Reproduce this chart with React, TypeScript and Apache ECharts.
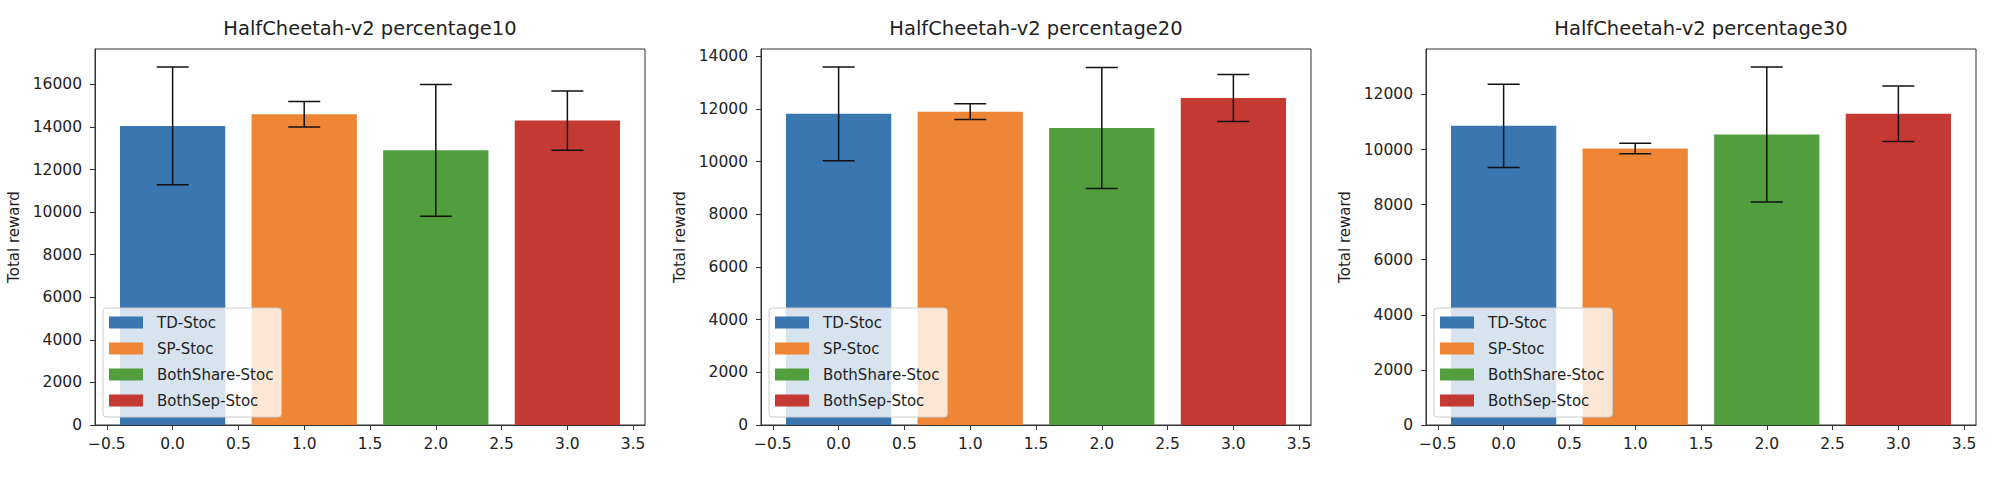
import React, { useEffect, useRef } from 'react';
import * as echarts from 'echarts';

const methods = ['TD-Stoc', 'SP-Stoc', 'BothShare-Stoc', 'BothSep-Stoc'];
const positions = [0, 1, 2, 3];
const titles = [
  'HalfCheetah-v2 percentage10',
  'HalfCheetah-v2 percentage20',
  'HalfCheetah-v2 percentage30',
];

// mean reward and std per method
const means10 = [14050, 14600, 12900, 14300];
const errs10 = [2770, 600, 3090, 1390];
const means20 = [11820, 11900, 11280, 12420];
const errs20 = [1780, 300, 2300, 890];
const means30 = [10860, 10040, 10550, 11300];
const errs30 = [1510, 190, 2450, 1010];

const yTicks10 = [0, 2000, 4000, 6000, 8000, 10000, 12000, 14000, 16000];
const yTicks20 = [0, 2000, 4000, 6000, 8000, 10000, 12000, 14000];
const yTicks30 = [0, 2000, 4000, 6000, 8000, 10000, 12000];
const xTicks = [-0.5, 0, 0.5, 1, 1.5, 2, 2.5, 3, 3.5];

const panels = [
  { title: titles[0], means: means10, errs: errs10, yTicks: yTicks10 },
  { title: titles[1], means: means20, errs: errs20, yTicks: yTicks20 },
  { title: titles[2], means: means30, errs: errs30, yTicks: yTicks30 },
];

const colors = ['#3a76af', '#ef8636', '#529e3e', '#c43a32'];
const FONT = 'DejaVu Sans';
const TEXT = '#222';
const gridLefts = [95, 761, 1426];
const GRID_TOP = 49;
const GRID_W = 550;
const GRID_H = 376;

const fmtX = (v: number) => (v < 0 ? '\u2212' : '') + Math.abs(v).toFixed(1);

const App: React.FC = () => {
  const chartRef = useRef<HTMLDivElement>(null);

  useEffect(() => {
    if (!chartRef.current) return;
    const chart = echarts.init(chartRef.current, null, { renderer: 'svg' });

    const renderBar = (color: string) => (params: any, api: any) => {
      const x = api.value(0);
      const y = api.value(1);
      const e = api.value(2);
      const p0 = api.coord([x - 0.4, y]);
      const p1 = api.coord([x + 0.4, 0]);
      const top = api.coord([x, y + e]);
      const bot = api.coord([x, y - e]);
      const cap = 16;
      const err = { stroke: '#111', lineWidth: 1.5 };
      return {
        type: 'group',
        children: [
          {
            type: 'rect',
            shape: { x: p0[0], y: p0[1], width: p1[0] - p0[0], height: p1[1] - p0[1] },
            style: { fill: color },
          },
          { type: 'line', shape: { x1: top[0], y1: top[1], x2: bot[0], y2: bot[1] }, style: err },
          { type: 'line', shape: { x1: top[0] - cap, y1: top[1], x2: top[0] + cap, y2: top[1] }, style: err },
          { type: 'line', shape: { x1: bot[0] - cap, y1: bot[1], x2: bot[0] + cap, y2: bot[1] }, style: err },
        ],
      };
    };

    const series: any[] = [];
    panels.forEach((p, gi) => {
      methods.forEach((m, i) => {
        series.push({
          name: m,
          type: 'custom',
          xAxisIndex: gi,
          yAxisIndex: gi,
          itemStyle: { color: colors[i] },
          renderItem: renderBar(colors[i]),
          encode: { x: 0, y: [1, 2] },
          data: [[positions[i], p.means[i], p.errs[i]]],
        });
      });
    });

    const option = {
      animation: false,
      textStyle: { fontFamily: FONT },
      title: panels.map((p, gi) => ({
        text: p.title,
        left: gridLefts[gi] + GRID_W / 2,
        top: 18,
        textAlign: 'center',
        padding: 0,
        textStyle: { fontFamily: FONT, fontSize: 19.5, fontWeight: 'normal', color: TEXT },
      })),
      legend: panels.map((p, gi) => ({
        data: methods,
        orient: 'vertical',
        left: gridLefts[gi] + 8,
        top: 308,
        icon: 'rect',
        itemWidth: 34,
        itemHeight: 12,
        itemGap: 11,
        padding: [7, 8, 9, 6],
        backgroundColor: 'rgba(255,255,255,0.8)',
        borderColor: '#cccccc',
        borderWidth: 1,
        borderRadius: 3,
        selectedMode: false,
        textStyle: { fontFamily: FONT, fontSize: 15, color: TEXT, lineHeight: 15, padding: [0, 0, 0, 9] },
      })),
      grid: panels.map((p, gi) => ({
        left: gridLefts[gi],
        top: GRID_TOP,
        width: GRID_W,
        height: GRID_H,
        show: true,
        borderColor: '#333',
        borderWidth: 1,
        backgroundColor: 'transparent',
      })),
      xAxis: panels.map((p, gi) => ({
        type: 'value',
        gridIndex: gi,
        min: -0.59,
        max: 3.59,
        splitLine: { show: false },
        axisLine: { show: true, onZero: false, lineStyle: { color: '#333', width: 1 } },
        axisTick: { show: true, length: 5, customValues: xTicks, lineStyle: { color: '#333' } },
        axisLabel: {
          customValues: xTicks,
          formatter: fmtX,
          margin: 11,
          fontFamily: FONT,
          fontSize: 15.5,
          color: TEXT,
        },
      })),
      yAxis: panels.map((p, gi) => ({
        type: 'value',
        gridIndex: gi,
        min: 0,
        max: Math.max(...p.means.map((m, i) => m + p.errs[i])) * 1.05,
        name: 'Total reward',
        nameLocation: 'middle',
        nameGap: 74,
        nameTextStyle: { fontFamily: FONT, fontSize: 15, color: TEXT },
        splitLine: { show: false },
        axisLine: { show: true, onZero: false, lineStyle: { color: '#333', width: 1 } },
        axisTick: { show: true, length: 5, customValues: p.yTicks, lineStyle: { color: '#333' } },
        axisLabel: {
          customValues: p.yTicks,
          formatter: (v: number) => String(v),
          margin: 13,
          fontFamily: FONT,
          fontSize: 15.5,
          color: TEXT,
        },
      })),
      series,
    };

    chart.setOption(option);
    return () => chart.dispose();
  }, []);

  return (
    <div
      ref={chartRef}
      style={{ position: 'fixed', left: 0, top: 0, width: 1999, height: 477, background: '#fff' }}
    />
  );
};

export default App;
